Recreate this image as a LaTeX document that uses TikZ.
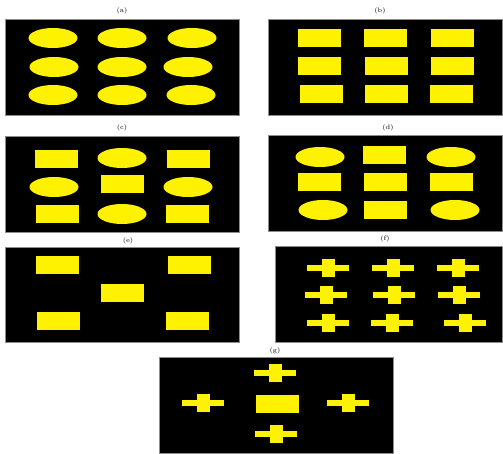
\documentclass[tikz,border=0pt]{standalone}
\usetikzlibrary{shapes.geometric}
\begin{document}
\begin{tikzpicture}[x=1pt,y=-1pt,
 panel/.style={draw=black!45, line width=0.8pt, fill=black},
 ell/.style={ellipse, fill=yellow, minimum width=49pt, minimum height=20pt, inner sep=0pt},
 rct/.style={rectangle, fill=yellow, minimum width=43pt, minimum height=18pt, inner sep=0pt},
 lbl/.style={font=\fontsize{6.5}{7}\selectfont\bfseries, text=black!75, inner sep=0pt},
 plus/.pic={\fill[yellow] (-21,-3) rectangle (21,3); \fill[yellow] (-6.5,-9) rectangle (6.5,9);}
]
\fill[white] (0,0) rectangle (503,454);
\useasboundingbox (0,0) rectangle (503,454);
% (a)
\node[lbl] (la) at (122,11) {(a)};
\draw[panel] (5,19) rectangle (239,115);
\node[ell] (a11) at (53,38) {}; \node[ell] (a12) at (122,38) {}; \node[ell] (a13) at (192,38) {};
\node[ell] (a21) at (54,67) {}; \node[ell] (a22) at (122,67) {}; \node[ell] (a23) at (188,67) {};
\node[ell] (a31) at (53,95) {}; \node[ell] (a32) at (122,95) {}; \node[ell] (a33) at (191,95) {};
% (b)
\node[lbl] (lb) at (380,11) {(b)};
\draw[panel] (268,19) rectangle (502,115);
\node[rct] (b11) at (319,38) {}; \node[rct] (b12) at (385,38) {}; \node[rct] (b13) at (452,38) {};
\node[rct] (b21) at (319,66) {}; \node[rct] (b22) at (386,66) {}; \node[rct] (b23) at (452,66) {};
\node[rct] (b31) at (321,94) {}; \node[rct] (b32) at (386,94) {}; \node[rct] (b33) at (451,94) {};
% (c)
\node[lbl] (lc) at (122,128) {(c)};
\draw[panel] (5,136) rectangle (239,232);
\node[rct] (c11) at (56,159) {}; \node[ell] (c12) at (122,158) {}; \node[rct] (c13) at (188,159) {};
\node[ell] (c21) at (54,187) {}; \node[rct] (c22) at (122,184) {}; \node[ell] (c23) at (188,187) {};
\node[rct] (c31) at (57,214) {}; \node[ell] (c32) at (122,214) {}; \node[rct] (c33) at (187,214) {};
% (d)
\node[lbl] (ld) at (388,128) {(d)};
\draw[panel] (268,135) rectangle (502,231);
\node[ell] (d11) at (320,157) {}; \node[rct] (d12) at (384,155) {}; \node[ell] (d13) at (451,157) {};
\node[rct] (d21) at (319,182) {}; \node[rct] (d22) at (385,182) {}; \node[rct] (d23) at (451,182) {};
\node[ell] (d31) at (323,210) {}; \node[rct] (d32) at (385,210) {}; \node[ell] (d33) at (455,210) {};
% (e)
\node[lbl] (le) at (128,241) {(e)};
\draw[panel] (5,247) rectangle (239,342);
\node[rct] (e1) at (57,265) {}; \node[rct] (e2) at (189,265) {};
\node[rct] (e3) at (122,293) {};
\node[rct] (e4) at (58,321) {}; \node[rct] (e5) at (187,321) {};
% (f)
\node[lbl] (lf) at (385,239) {(f)};
\draw[panel] (275,246) rectangle (502,342);
\pic at (328,268) {plus}; \pic at (393,268) {plus}; \pic at (458,268) {plus};
\pic at (326,295) {plus}; \pic at (394,295) {plus}; \pic at (459,295) {plus};
\pic at (328,323) {plus}; \pic at (392,323) {plus}; \pic at (465,323) {plus};
% (g)
\node[lbl] (lg) at (275,351) {(g)};
\draw[panel] (159,357) rectangle (393,453);
\pic at (275,373) {plus};
\pic at (203,403) {plus};
\node[rct] (g0) at (277,404) {};
\pic at (348,403) {plus};
\pic at (276,434) {plus};
\end{tikzpicture}
\end{document}
